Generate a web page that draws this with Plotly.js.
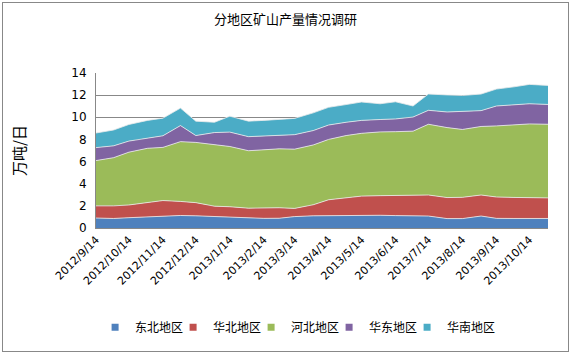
<!DOCTYPE html>
<html>
<head>
<meta charset="utf-8">
<script src="https://cdn.plot.ly/plotly-3.0.1.min.js"></script>
<style>
html,body{margin:0;padding:0;background:#fff;}
#wrap{position:relative;width:571px;height:353px;}
#chart{width:571px;height:353px;}
#frame{position:absolute;left:2px;top:2px;width:565px;height:348px;border:1px solid #888;pointer-events:none;}
</style>
</head>
<body>
<div id="wrap"><div id="chart"></div><div id="frame"></div></div>
<script>
// dates of observations (semi-monthly)
const dates = ['2012-09-14','2012-09-30','2012-10-14','2012-10-31','2012-11-14','2012-11-30','2012-12-14','2012-12-31',
  '2013-01-14','2013-01-31','2013-02-14','2013-02-28','2013-03-14','2013-03-31','2013-04-14','2013-04-30',
  '2013-05-14','2013-05-31','2013-06-14','2013-06-30','2013-07-14','2013-07-31','2013-08-14','2013-08-31',
  '2013-09-14','2013-09-30','2013-10-14','2013-10-31'];

// series names
const seriesNames = ['东北地区','华北地区','河北地区','华东地区','华南地区'];

// values (万吨/日)
const dongbei = [0.90,0.86,0.93,0.98,1.03,1.13,1.10,1.02,1.00,0.88,0.87,0.88,1.03,1.10,1.12,1.15,1.18,1.15,1.12,1.10,1.08,0.85,0.85,1.08,0.87,0.86,0.86,0.86];
const huabei  = [1.10,1.14,1.15,1.32,1.45,1.27,1.19,0.95,0.92,0.91,0.93,0.95,0.74,1.00,1.43,1.60,1.70,1.77,1.83,1.88,1.90,1.90,1.92,1.90,1.93,1.90,1.88,1.86];
const hebei   = [4.09,4.35,4.77,4.90,4.80,5.40,5.44,5.55,5.44,5.19,5.25,5.32,5.35,5.40,5.45,5.60,5.67,5.76,5.75,5.77,6.39,6.32,6.13,6.19,6.42,6.54,6.66,6.65];
const huadong = [1.17,1.07,1.00,0.95,1.05,1.45,0.62,1.10,1.30,1.27,1.25,1.25,1.31,1.30,1.30,1.20,1.17,1.12,1.15,1.27,1.26,1.41,1.65,1.43,1.80,1.82,1.82,1.79];
const huanan  = [1.32,1.43,1.50,1.57,1.59,1.58,1.30,0.93,1.44,1.40,1.42,1.40,1.47,1.60,1.60,1.60,1.66,1.42,1.55,1.00,1.47,1.54,1.42,1.50,1.53,1.63,1.75,1.72];

// x tick positions and labels
const tickDates = ['2012-09-14','2012-10-14','2012-11-14','2012-12-14','2013-01-14','2013-02-14','2013-03-14',
  '2013-04-14','2013-05-14','2013-06-14','2013-07-14','2013-08-14','2013-09-14','2013-10-14'];
const tickLabels = ['2012/9/14','2012/10/14','2012/11/14','2012/12/14','2013/1/14','2013/2/14','2013/3/14',
  '2013/4/14','2013/5/14','2013/6/14','2013/7/14','2013/8/14','2013/9/14','2013/10/14'];

const colors = ['#4F81BD','#C0504D','#9BBB59','#8064A2','#4BACC6'];
const allSeries = [dongbei, huabei, hebei, huadong, huanan];

const font = '"Noto Sans CJK SC", "DejaVu Sans", sans-serif';

const traces = allSeries.map((vals, i) => ({
  type: 'scatter',
  mode: 'lines',
  x: dates,
  y: vals,
  name: seriesNames[i],
  stackgroup: 'one',
  fillcolor: colors[i],
  line: {color: 'rgba(235,235,235,0.8)', width: 1},
  showlegend: false,
  hoverinfo: 'x+y+name'
}));

// legend entries with small square keys
const legendTraces = seriesNames.map((n, i) => ({
  type: 'scatter',
  mode: 'markers',
  x: [null], y: [null],
  name: n,
  marker: {symbol: 'square', size: 7, color: colors[i]},
  showlegend: true
}));
// blank spacer entry so the last legend label is not cut off
legendTraces.push({
  type: 'scatter', mode: 'markers', x: [null], y: [null], name: ' ',
  marker: {symbol: 'square', size: 1, color: 'rgba(0,0,0,0)'}, showlegend: true
});

const layout = {
  width: 571, height: 353,
  margin: {l: 96, r: 23, t: 73, b: 121},
  paper_bgcolor: '#fff',
  plot_bgcolor: '#fff',
  title: {text: '分地区矿山产量情况调研', font: {family: font, size: 13, color: '#000'}, x: 0.5, xanchor: 'center', y: 0.945, yanchor: 'middle'},
  xaxis: {
    type: 'date',
    automargin: false,
    range: [dates[0], dates[dates.length - 1]],
    tickvals: tickDates,
    ticktext: tickLabels,
    tickangle: -45,
    tickfont: {family: '"DejaVu Sans", sans-serif', size: 11, color: '#000'},
    showgrid: false,
    showline: true,
    linecolor: '#888',
    ticks: '',
    zeroline: false
  },
  yaxis: {
    automargin: false,
    range: [0, 14],
    dtick: 2,
    tick0: 0,
    showgrid: true,
    gridcolor: '#888',
    gridwidth: 1,
    showline: true,
    linecolor: '#888',
    zeroline: false,
    tickfont: {family: '"DejaVu Sans", sans-serif', size: 12, color: '#000'},
    ticklabelstandoff: 6,
    title: {text: '万吨/日', font: {family: font, size: 15, color: '#000'}, standoff: 42}
  },
  legend: {
    orientation: 'h',
    x: -0.002, xanchor: 'left',
    y: -0.64, yanchor: 'middle',
    font: {family: font, size: 12, color: '#000'},
    bgcolor: 'rgba(0,0,0,0)',
    itemwidth: 30,
    entrywidth: 33,
    entrywidthmode: 'pixels',
    traceorder: 'normal'
  },
  showlegend: true
};

Plotly.newPlot('chart', traces.concat(legendTraces), layout, {displayModeBar: false, staticPlot: true});
</script>
</body>
</html>
